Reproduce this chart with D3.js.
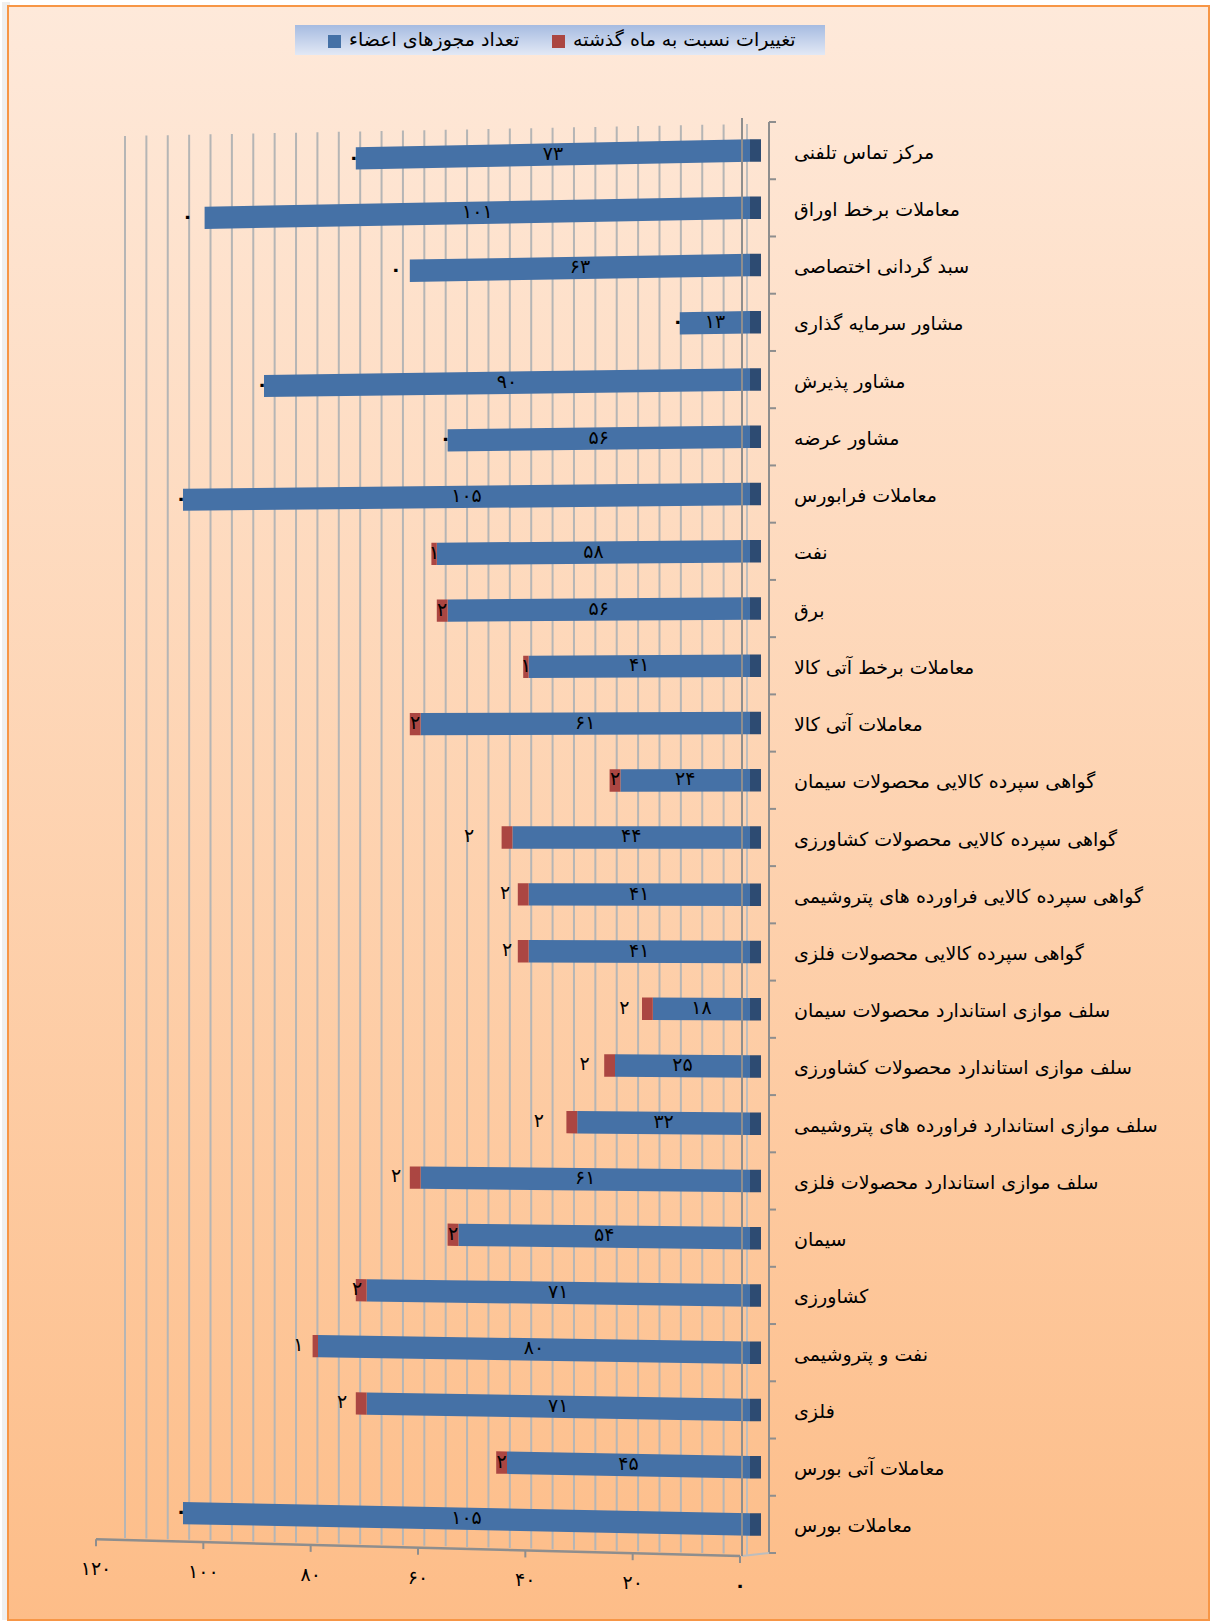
<!DOCTYPE html>
<html lang="fa">
<head>
<meta charset="UTF-8">
<title>تعداد مجوزهای اعضاء</title>
<script src="https://cdn.jsdelivr.net/npm/d3@7"></script>
<style>
  body { margin: 0; background: #fff; }
  text { font-family: "DejaVu Sans", sans-serif; fill: #000; }
</style>
</head>
<body>
<svg width="1211" height="1622"></svg>
<script>
// داده ها
var categories = [
    "مرکز تماس تلفنی",
    "معاملات برخط اوراق",
    "سبد گردانی اختصاصی",
    "مشاور سرمایه گذاری",
    "مشاور پذیرش",
    "مشاور عرضه",
    "معاملات فرابورس",
    "نفت",
    "برق",
    "معاملات برخط آتی کالا",
    "معاملات آتی کالا",
    "گواهی سپرده کالایی محصولات سیمان",
    "گواهی سپرده کالایی محصولات کشاورزی",
    "گواهی سپرده کالایی فراورده های پتروشیمی",
    "گواهی سپرده کالایی محصولات فلزی",
    "سلف موازی استاندارد محصولات سیمان",
    "سلف موازی استاندارد محصولات کشاورزی",
    "سلف موازی استاندارد فراورده های پتروشیمی",
    "سلف موازی استاندارد محصولات فلزی",
    "سیمان",
    "کشاورزی",
    "نفت و پتروشیمی",
    "فلزی",
    "معاملات آتی بورس",
    "معاملات بورس"
];
var members = [73, 101, 63, 13, 90, 56, 105, 58, 56, 41, 61, 24, 44, 41, 41, 18, 25, 32, 61, 54, 71, 80, 71, 45, 105];
var changes = [0, 0, 0, 0, 0, 0, 0, 1, 2, 1, 2, 2, 2, 2, 2, 2, 2, 2, 2, 2, 2, 1, 2, 2, 0];
var xTicks = [0, 20, 40, 60, 80, 100, 120];
var seriesNames = ["تعداد مجوزهای اعضاء", "تغییرات نسبت به ماه گذشته"];

var svg = d3.select("svg");
var defs = svg.append("defs");

// رقم فارسی
function fa(n) {
    return String(n).replace(/\d/g, function (d) { return "۰۱۲۳۴۵۶۷۸۹"[d]; });
}

// پس زمینه
var bg = defs.append("linearGradient").attr("id", "bg")
    .attr("x1", 0).attr("y1", 0).attr("x2", 0).attr("y2", 1);
bg.append("stop").attr("offset", "0%").attr("stop-color", "#fee9da");
bg.append("stop").attr("offset", "100%").attr("stop-color", "#fdbd88");

var lg = defs.append("linearGradient").attr("id", "lg")
    .attr("x1", 0).attr("y1", 0).attr("x2", 0).attr("y2", 1);
lg.append("stop").attr("offset", "0%").attr("stop-color", "#a6bbe1");
lg.append("stop").attr("offset", "100%").attr("stop-color", "#e2e8f5");

svg.append("rect").attr("x", 2).attr("y", 2).attr("width", 8).attr("height", 1618).attr("fill", "#efefef");
svg.append("rect")
    .attr("x", 8).attr("y", 6).attr("width", 1201).attr("height", 1614)
    .attr("fill", "url(#bg)").attr("stroke", "#f79646").attr("stroke-width", 2);

// مقیاس ها
var x = d3.scaleLinear().domain([0, 120]).range([750, 102]);     // میله ها
var xGrid = d3.scaleLinear().domain([0, 116]).range([745, 125]);  // دیوار پشت
var xAxisScale = d3.scaleLinear().domain([0, 120]).range([740, 96]); // لبه جلو
var y = d3.scalePoint().domain(categories).range([122, 1553]).padding(0.5);
var barH = 22.5;

// پرسپکتیو ساده
var yc = 837, kTilt = 2.9e-5;
function P(px, py) { return [px, yc + (py - yc) * (1 - kTilt * (750 - px))]; }
function axisY(px) { return 1539.3 + (px - 96) * (16.7 / 644); }
function quad(x0, x1, yMid) {
    var t = yMid - barH / 2, b = yMid + barH / 2;
    return [P(x0, t), P(x1, t), P(x1, b), P(x0, b)];
}
var line = d3.line();

// خطوط شبکه
var g = svg.append("g");
g.selectAll(".grid")
    .data(d3.range(4, 117, 4))
    .enter().append("line")
    .attr("x1", function (d) { return xGrid(d); })
    .attr("x2", function (d) { return xGrid(d); })
    .attr("y1", function (d) { return 124 + (745 - xGrid(d)) * (12 / 620); })
    .attr("y2", function (d) { return axisY(xGrid(d)) - 2; })
    .attr("stroke", "#b5b5b5").attr("stroke-width", 2);
g.append("line").attr("x1", 747).attr("x2", 747).attr("y1", 124).attr("y2", 1555)
    .attr("stroke", "#bdbdbd").attr("stroke-width", 2);

// محور عمودی
g.append("line").attr("x1", 769).attr("x2", 769).attr("y1", 122).attr("y2", 1553)
    .attr("stroke", "#8e8e8e").attr("stroke-width", 2);
g.selectAll(".ytick")
    .data(d3.range(categories.length + 1))
    .enter().append("line")
    .attr("x1", 769).attr("x2", 776)
    .attr("y1", function (d) { return 122 + d * y.step(); })
    .attr("y2", function (d) { return 122 + d * y.step(); })
    .attr("stroke", "#8e8e8e").attr("stroke-width", 2);
g.append("line").attr("x1", 742).attr("y1", 1556).attr("x2", 769).attr("y2", 1553)
    .attr("stroke", "#bdbdbd").attr("stroke-width", 2);

// محور افقی
g.append("line")
    .attr("x1", xAxisScale(120)).attr("y1", axisY(xAxisScale(120)))
    .attr("x2", xAxisScale(0)).attr("y2", axisY(xAxisScale(0)))
    .attr("stroke", "#8e8e8e").attr("stroke-width", 2.5);
g.selectAll(".xtick")
    .data(xTicks)
    .enter().append("line")
    .attr("x1", function (d) { return xAxisScale(d); })
    .attr("x2", function (d) { return xAxisScale(d); })
    .attr("y1", function (d) { return axisY(xAxisScale(d)); })
    .attr("y2", function (d) { return axisY(xAxisScale(d)) + 7; })
    .attr("stroke", "#8e8e8e").attr("stroke-width", 2);
g.selectAll(".xlabel")
    .data(xTicks)
    .enter().append("text")
    .attr("x", function (d) { return xAxisScale(d); })
    .attr("y", function (d) { return axisY(xAxisScale(d)) + 29; })
    .attr("text-anchor", "middle")
    .attr("dominant-baseline", "central")
    .attr("font-size", 19)
    .attr("font-weight", function (d) { return d === 0 ? "bold" : "normal"; })
    .text(function (d) { return fa(d); });

// برچسب دسته ها
g.selectAll(".cat")
    .data(categories)
    .enter().append("text")
    .attr("x", 794)
    .attr("y", function (d) { return y(d) + 8; })
    .attr("font-size", 19)
    .text(function (d) { return d; });

// میله ها
var rows = g.selectAll(".row")
    .data(categories)
    .enter().append("g");

rows.append("path")
    .attr("d", function (d, i) { return line(quad(x(0), x(members[i]), y(d))) + "Z"; })
    .attr("fill", "#4571a6");
rows.append("path")
    .attr("d", function (d, i) { return line(quad(x(0), x(0) + 11, y(d))) + "Z"; })
    .attr("fill", "#2d4b72");
rows.filter(function (d, i) { return changes[i] > 0; })
    .append("path")
    .attr("d", function (d) {
        var i = categories.indexOf(d);
        return line(quad(x(members[i]), x(members[i] + changes[i]), y(d))) + "Z";
    })
    .attr("fill", "#ab4642");

// خط تیره دیوار روی میله ها
g.append("line").attr("x1", 742).attr("x2", 742).attr("y1", 118).attr("y2", 1556)
    .attr("stroke", "#8e8e8e").attr("stroke-width", 2);

// برچسب مقادیر
rows.append("text")
    .attr("transform", function (d, i) {
        var p = P((x(0) + x(members[i])) / 2, y(d));
        return "translate(" + p[0] + "," + (p[1] - 2) + ")";
    })
    .attr("text-anchor", "middle")
    .attr("dominant-baseline", "central")
    .attr("font-size", 19)
    .text(function (d, i) { return fa(members[i]); });

// جای برچسب تغییرات نسبت به وسط میله قرمز
var changeLabelShift = [-2, -17, -14, -2, -2, -2, -2, 0, 0, 0, 0, 0, -38, -18, -16, -23, -25, -33, -19, 0, -4, -17, -19, 0, -2];
rows.append("text")
    .attr("transform", function (d, i) {
        var cx = (x(members[i]) + x(members[i] + changes[i])) / 2 + changeLabelShift[i];
        var p = P(cx, y(d));
        return "translate(" + p[0] + "," + (p[1] - 2) + ")";
    })
    .attr("text-anchor", "middle")
    .attr("dominant-baseline", "central")
    .attr("font-size", 19)
    .attr("font-weight", function (d, i) { return changes[i] === 0 ? "bold" : "normal"; })
    .text(function (d, i) { return fa(changes[i]); });

// راهنما
var legend = svg.append("g");
legend.append("rect").attr("x", 295).attr("y", 25).attr("width", 530).attr("height", 30)
    .attr("fill", "url(#lg)");
var legendItems = [
    { name: seriesNames[0], color: "#4571a6", x: 328 },
    { name: seriesNames[1], color: "#ab4642", x: 552 }
];
var li = legend.selectAll(".li").data(legendItems).enter().append("g");
li.append("rect")
    .attr("x", function (d) { return d.x; }).attr("y", 35)
    .attr("width", 13).attr("height", 13)
    .attr("fill", function (d) { return d.color; });
li.append("text")
    .attr("x", function (d) { return d.x + 21; })
    .attr("y", 46)
    .attr("font-size", 19)
    .text(function (d) { return d.name; });
</script>
</body>
</html>
